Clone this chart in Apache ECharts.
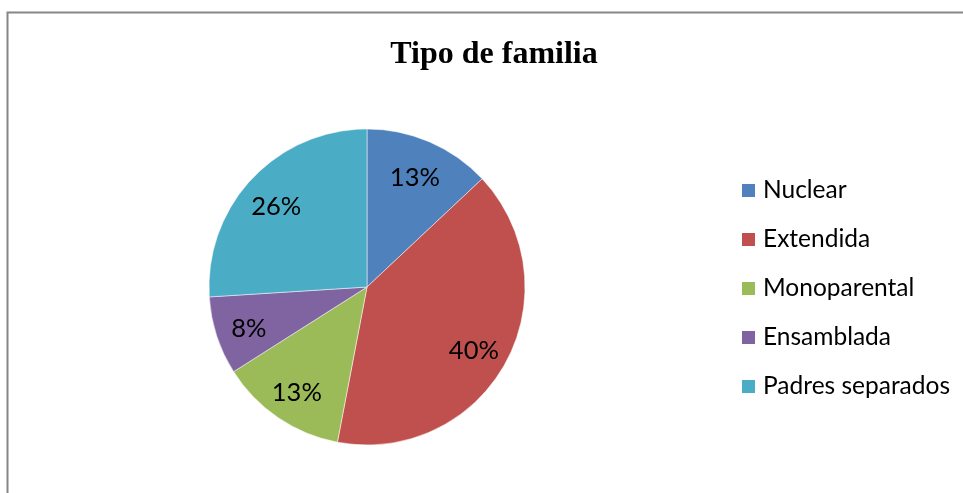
<!DOCTYPE html>
<html>
<head>
<meta charset="utf-8">
<script src="https://cdn.jsdelivr.net/npm/echarts@6/dist/echarts.min.js"></script>
<style>html,body{margin:0;padding:0;background:#fff;}#c{width:963px;height:493px;}</style>
</head>
<body>
<div id="c"></div>
<script>
const title = 'Tipo de familia';
const categories = ['Nuclear', 'Extendida', 'Monoparental', 'Ensamblada', 'Padres separados'];
const values = [13, 40, 13, 8, 26];
const colors = ['#4F81BD', '#C0504D', '#9BBB59', '#8064A2', '#4BACC6'];

const chart = echarts.init(document.getElementById('c'));
const data = categories.map((n, i) => ({ name: n, value: values[i] }));
const center = [367, 287];
const R = 158;
chart.setOption({
  animation: false,
  color: colors,
  title: {
    text: title, left: 489, top: 34, textAlign: 'center',
    textStyle: { fontFamily: 'Liberation Serif', fontWeight: 'bold', fontSize: 32, color: '#000' }
  },
  graphic: [{
    type: 'rect', shape: { x: 7.5, y: 12.5, width: 1000, height: 600 },
    style: { fill: 'none', stroke: '#868686', lineWidth: 2 }, silent: true
  }],
  legend: {
    orient: 'vertical', left: 740, top: 178, padding: 0,
    itemWidth: 15, itemHeight: 15, itemGap: 24, icon: 'rect',
    data: categories,
    textStyle: { fontFamily: 'Lato', fontSize: 24.5, color: '#000', lineHeight: 24, padding: [0, 0, 0, 2] }
  },
  series: [{
    type: 'pie', center: center, radius: [0, R], startAngle: 90, clockwise: true,
    data: data, label: { show: false }, labelLine: { show: false },
    itemStyle: { borderColor: '#fff', borderWidth: 0.5 },
    emphasis: { disabled: true }
  }, {
    type: 'pie', center: center, radius: [R * 0.52, R], startAngle: 90, clockwise: true,
    data: data, silent: true, legendHoverLink: false,
    itemStyle: { color: 'rgba(0,0,0,0)', borderWidth: 0 },
    label: {
      show: true, position: 'inside', formatter: '{c}%', offset: [-1, 4],
      fontFamily: 'Lato', fontSize: 25.5, color: '#000'
    },
    labelLine: { show: false },
    emphasis: { disabled: true }
  }]
});
</script>
</body>
</html>
